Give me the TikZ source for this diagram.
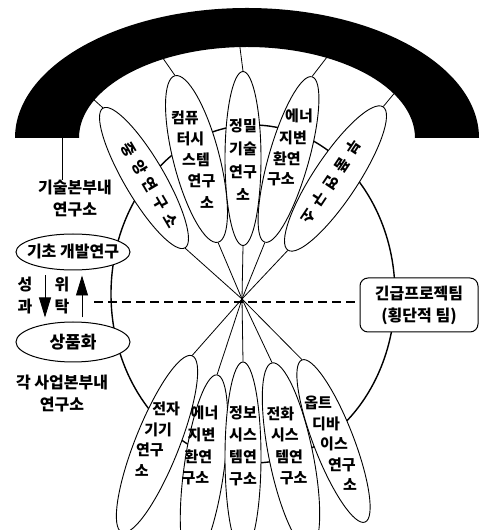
\documentclass[tikz,border=0pt]{standalone}
\usepackage{fontspec}
\setmainfont{Noto Sans CJK KR}
\newfontfamily\spread[LetterSpace=45]{Noto Sans CJK KR}
\usetikzlibrary{arrows.meta,positioning,calc,shapes.geometric}

\tikzset{
  petal/.style={draw,ellipse,fill=white,inner sep=0pt,line width=0.9pt},
  ptxt/.style={inner sep=0pt,font=\fontsize{15}{18}\selectfont\bfseries},
  side/.style={draw,ellipse,fill=white,inner sep=0pt,line width=1pt},
  lbl/.style={inner sep=0pt,align=center,font=\fontsize{16}{22}\selectfont\bfseries},
  spoke/.style={line width=0.8pt},
  bigtip/.style={-{Triangle[length=20pt,width=12pt]},line width=0.9pt}
}

\begin{document}
\begin{tikzpicture}[x=1pt,y=1pt]
\useasboundingbox (0,0) rectangle (481,530);
\coordinate (O) at (242,231);
% ring of the institutes
\draw[line width=1.4pt] (253,236) ellipse [x radius=142,y radius=169];
% upper petals
\node[petal,minimum width=162,minimum height=40,rotate=120.4] (ja) at (144,352) {};
\node[petal,minimum width=172,minimum height=46,rotate=104.5] (cs) at (196.5,371) {};
\node[petal,minimum width=174,minimum height=36,rotate=90] (jm) at (243,371.5) {};
\node[petal,minimum width=172,minimum height=40,rotate=74.1] (eu) at (288.5,370.5) {};
\node[petal,minimum width=172,minimum height=44,rotate=56.4] (bp) at (335.5,351.5) {};
% lower petals
\node[petal,minimum width=190,minimum height=44,rotate=68.3] (jj) at (157,86) {};
\node[petal,minimum width=190,minimum height=40,rotate=82.1] (el) at (204,61) {};
\node[petal,minimum width=190,minimum height=36,rotate=90] (jb) at (243,73) {};
\node[petal,minimum width=190,minimum height=44,rotate=101.5] (jh) at (291,74) {};
\node[petal,minimum width=174,minimum height=40,rotate=111.25] (ot) at (333.5,89) {};
% spokes
\foreach \p in {ja,cs,jm,eu,bp} \draw[spoke] (\p.west) -- (O);
\foreach \p in {jj,el,jb,jh,ot} \draw[spoke] (\p.east) -- (O);
% lines into the band
\coordinate (b1) at (92,432);
\coordinate (b2) at (160,476);
\coordinate (b3) at (239,490);
\coordinate (b4) at (334,482);
\coordinate (b5) at (397,440);
\coordinate (bL) at (62,396);
\draw[spoke] (ja.east) -- (b1);
\draw[spoke] (cs.east) -- (b2);
\draw[spoke] (jm.east) -- (b3);
\draw[spoke] (eu.east) -- (b4);
\draw[spoke] (bp.east) -- (b5);
% black band
\fill (15,392) arc[start angle=180,end angle=0,x radius=232,y radius=130]
  -- (415,392) arc[start angle=0,end angle=180,x radius=168,y radius=91] -- cycle;
% petal texts
\node[ptxt,rotate=-59.6] (ja-t) at (150,345) {\spread\bfseries 중앙연구소};
\node[ptxt,rotate=236.4] (bp-t) at (331,348) {\spread\bfseries 부품연구소};
\begin{scope}[shift={(196,370)},rotate=14.5]
\foreach \t [count=\i] in {컴퓨,터시,스템,연구,소}
  \node[ptxt] (cs-\i) at (0,{(3-\i)*22}) {\t};
\end{scope}
\begin{scope}[shift={(243,370)}]
\foreach \t [count=\i] in {정밀,기술,연구,소}
  \node[ptxt] (jm-\i) at (0,{(2.5-\i)*23}) {\t};
\end{scope}
\begin{scope}[shift={(290,382)},rotate=-15.9]
\foreach \t [count=\i] in {에너,지변,환연,구소}
  \node[ptxt] (eu-\i) at (0,{(2.5-\i)*22}) {\t};
\end{scope}
\begin{scope}[shift={(154,90)},rotate=-21.7]
\foreach \t [count=\i] in {전자,기기,연구,소}
  \node[ptxt] (jj-\i) at (0,{(2.5-\i)*22}) {\t};
\end{scope}
\begin{scope}[shift={(200,84)},rotate=-7.9]
\foreach \t [count=\i] in {에너,지변,환연,구소}
  \node[ptxt] (el-\i) at (0,{(2.5-\i)*22}) {\t};
\end{scope}
\begin{scope}[shift={(243,84)}]
\foreach \t [count=\i] in {정보,시스,템연,구소}
  \node[ptxt] (jb-\i) at (0,{(2.5-\i)*22}) {\t};
\end{scope}
\begin{scope}[shift={(287,84)},rotate=11.5]
\foreach \t [count=\i] in {전화,시스,템연,구소}
  \node[ptxt] (jh-\i) at (0,{(2.5-\i)*22}) {\t};
\end{scope}
\begin{scope}[shift={(334,86)},rotate=21.25]
\foreach \t [count=\i] in {옵트,디바,이스,연구,소}
  \node[ptxt] (ot-\i) at (0,{(3-\i)*22}) {\t};
\end{scope}
% left side
\node[lbl] (gisul) at (75,331) {기술본부내\\연구소};
\draw[spoke] (bL) -- (bL |- gisul.north);
\node[side,minimum width=114,minimum height=36] (gicho) at (73,278) {};
\node[lbl] (gicho-t) at (gicho) {기초 개발연구};
\node[side,minimum width=114,minimum height=40] (sangpum) at (73,188) {};
\node[lbl,font=\fontsize{17}{22}\selectfont\bfseries] (sangpum-t) at (sangpum) {상품화};
\node[lbl] (gakbu) at (62,136) {각 사업본부내\\연구소};
\draw[bigtip] ($(gicho.south)+(-28,-5)$) -- ($(sangpum.north)+(-28,4)$);
\draw[bigtip] ($(sangpum.north)+(9,4)$) -- ($(gicho.south)+(9,-5)$);
\node[lbl] (seonggwa) at (25,234) {성\\과};
\node[lbl] (witak) at (62,234) {위\\탁};
% urgent team
\node[draw,rounded corners=8pt,fill=white,line width=1pt,minimum width=118,
  minimum height=54,align=center,font=\fontsize{16}{22}\selectfont\bfseries] (urgent) at (419,225)
  {긴급프로젝팀\\(횡단적 팀)};
\coordinate (dashL) at (94,228);
\draw[line width=1.1pt,dash pattern=on 9pt off 5pt] (dashL) -- (dashL -| urgent.west);
\end{tikzpicture}
\end{document}
